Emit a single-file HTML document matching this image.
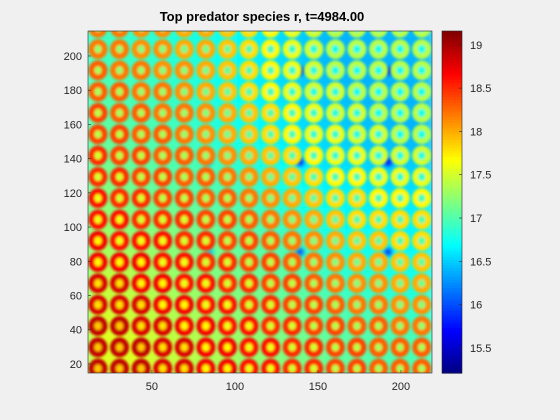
<!DOCTYPE html>
<html><head><meta charset="utf-8"><style>
body{margin:0;background:#f0f0f0;}
svg{display:block;font-family:"Liberation Sans",sans-serif;}
</style></head><body>
<svg id="fig" width="560" height="420">
<defs>
<clipPath id="pc"><rect x="88" y="31" width="344" height="342"/></clipPath>
<filter id="bgblur" x="-10%" y="-10%" width="120%" height="120%"><feGaussianBlur stdDeviation="7"/></filter>
<filter id="rblur" x="-20%" y="-20%" width="140%" height="140%"><feGaussianBlur stdDeviation="1.4"/></filter>
<filter id="hblur" x="-50%" y="-50%" width="200%" height="200%"><feGaussianBlur stdDeviation="2.5"/></filter>
</defs>
<rect x="0" y="0" width="560" height="420" fill="#f0f0f0"/>
<text x="262" y="21" text-anchor="middle" font-size="13" font-weight="bold" fill="#000">Top predator species r, t=4984.00</text>
<g id="plot" clip-path="url(#pc)">
<rect x="88" y="31" width="344" height="342" fill="#8fe"/>
<g id="bg" filter="url(#bgblur)"></g>
<g id="holes" filter="url(#hblur)"></g>
<g id="rings" filter="url(#rblur)"></g>
</g>
<rect x="88" y="31" width="344" height="342" fill="none" stroke="#262626" stroke-width="0.6"/>
<g id="axes"></g>
<g id="cbar"></g>
</svg>
<script>
const xTicks=[50,100,150,200];
const yTicks=[20,40,60,80,100,120,140,160,180,200];
const cTicks=[15.5,16,16.5,17,17.5,18,18.5,19];
const colCenters=[17.5,30.5,43.5,56.5,69.5,82.5,95.5,108.5,121.5,134.5,147.5,160.5,173.5,186.5,199.5,212.5];
const rowCenters=[216.5,204,191.6,179.1,166.7,154.2,141.8,129.3,116.9,104.4,92,79.5,67.1,54.6,42.2,29.7,17.3];
const ringValues=[
[18.2,18.2,18.1,18.1,18.0,18.0,17.9,17.8,17.7,17.6,17.5,17.4,17.4,17.4,17.4,17.4],
[18.2,18.2,18.1,18.1,18.0,18.0,17.9,17.8,17.7,17.6,17.5,17.4,17.4,17.4,17.4,17.4],
[18.3,18.2,18.2,18.1,18.1,18.0,17.9,17.8,17.7,17.6,17.5,17.4,17.4,17.4,17.4,17.4],
[18.3,18.3,18.2,18.2,18.1,18.0,17.9,17.8,17.7,17.6,17.5,17.5,17.4,17.4,17.4,17.4],
[18.4,18.3,18.3,18.2,18.2,18.1,18.0,17.9,17.8,17.7,17.6,17.5,17.5,17.4,17.4,17.4],
[18.4,18.4,18.3,18.3,18.2,18.1,18.0,17.9,17.8,17.7,17.6,17.6,17.5,17.5,17.4,17.4],
[18.5,18.4,18.4,18.3,18.3,18.2,18.1,18.0,17.9,17.8,17.7,17.6,17.6,17.5,17.5,17.5],
[18.5,18.5,18.4,18.4,18.3,18.3,18.2,18.1,18.0,17.9,17.8,17.7,17.7,17.6,17.6,17.6],
[18.6,18.5,18.5,18.4,18.4,18.3,18.3,18.2,18.1,18.0,17.9,17.8,17.8,17.7,17.7,17.7],
[18.6,18.6,18.5,18.5,18.5,18.4,18.4,18.3,18.2,18.1,18.0,17.9,17.8,17.8,17.8,17.8],
[18.7,18.6,18.6,18.6,18.5,18.5,18.4,18.4,18.3,18.2,18.1,18.0,17.9,17.9,17.8,17.8],
[18.7,18.7,18.7,18.6,18.6,18.5,18.5,18.4,18.4,18.3,18.2,18.1,18.0,18.0,17.9,17.9],
[18.8,18.8,18.7,18.7,18.6,18.6,18.5,18.5,18.4,18.4,18.3,18.2,18.1,18.1,18.0,18.0],
[18.8,18.8,18.8,18.7,18.7,18.6,18.6,18.5,18.5,18.4,18.4,18.3,18.2,18.2,18.1,18.1],
[18.9,18.9,18.8,18.8,18.7,18.7,18.6,18.6,18.5,18.5,18.4,18.4,18.3,18.3,18.2,18.2],
[18.9,18.9,18.9,18.8,18.8,18.7,18.7,18.6,18.6,18.5,18.5,18.4,18.4,18.3,18.3,18.3],
[18.9,18.9,18.9,18.8,18.8,18.7,18.7,18.6,18.6,18.5,18.5,18.4,18.4,18.3,18.3,18.3]
];
const holeX=[139.2,192.2,139.2,192.2,139.2,192.2,83.8,83.8,85];
const holeY=[191.2,191.2,138,138,85.4,85.4,191.2,138,85.4];
const holeV=[15.6,15.6,15.8,15.7,16.0,15.9,16.4,16.4,16.5];

const xMin=11.5,xMax=218.7,yMin=14.7,yMax=214.6,cMin=15.21,cMax=19.16;
const PX0=88,PX1=432,PY0=31,PY1=373;
const sx=v=>PX0+(v-xMin)/(xMax-xMin)*(PX1-PX0);
const sy=v=>PY1-(v-yMin)/(yMax-yMin)*(PY1-PY0);
const cy=v=>PY1-(v-cMin)/(cMax-cMin)*(PY1-PY0);
function jet(v){
  let t=(v-cMin)/(cMax-cMin);t=Math.max(0,Math.min(1,t));
  const f=x=>Math.max(0,Math.min(1,x));
  const r=f(1.5-Math.abs(4*t-3)),g=f(1.5-Math.abs(4*t-2)),b=f(1.5-Math.abs(4*t-1));
  return `rgb(${Math.round(r*255)},${Math.round(g*255)},${Math.round(b*255)})`;
}
const NS='http://www.w3.org/2000/svg';
function mk(tag,attrs,parent){const e=document.createElementNS(NS,tag);for(const k in attrs)e.setAttribute(k,attrs[k]);parent.appendChild(e);return e;}
const bg=document.getElementById('bg'),rings=document.getElementById('rings'),holes=document.getElementById('holes');
const dx=Math.abs(sx(colCenters[1])-sx(colCenters[0])),dy=Math.abs(sy(rowCenters[1])-sy(rowCenters[0]));
ringValues.forEach((row,ri)=>{
  row.forEach((v,ci)=>{
    const x=sx(colCenters[ci]),y=sy(rowCenters[ri]);
    const off=Math.min(1.35,1.0+0.35*(v-17.4));
    const bv=v-off;
    const b=mk('rect',{x:x-dx/2-1,y:y-dy/2-1,width:dx+2,height:dy+2,fill:jet(bv)},bg);
    
    
    const e=mk('ellipse',{cx:x,cy:y,rx:6.6,ry:7,fill:jet(bv+0.35),stroke:jet(v),'stroke-width':5.8},rings);
    
    
  });
});
holeX.forEach((hx,i)=>{
  const c=mk('circle',{cx:sx(hx),cy:sy(holeY[i]),r:4,fill:jet(holeV[i])},holes);
  
  
});
const ax=document.getElementById('axes');
xTicks.forEach(t=>{
  const X=sx(t);
  const l=mk('line',{x1:X,x2:X,y1:PY1,y2:PY1-3,stroke:'#262626','stroke-width':0.6},ax);
  
  
  const tx=mk('text',{x:X,y:PY1+17,'text-anchor':'middle','font-size':11,fill:'#262626'},ax);
  tx.textContent=t;
  
  
});
yTicks.forEach(t=>{
  const Y=sy(t);
  const l=mk('line',{x1:PX0,x2:PX0+3,y1:Y,y2:Y,stroke:'#262626','stroke-width':0.6},ax);
  
  
  const tx=mk('text',{x:PX0-6,y:Y+4,'text-anchor':'end','font-size':11,fill:'#262626'},ax);
  tx.textContent=t;
  
  
});
const cb=document.getElementById('cbar');
const CX0=442,CX1=462,N=120;
for(let i=0;i<N;i++){
  const v0=cMin+(cMax-cMin)*i/N,v1=cMin+(cMax-cMin)*(i+1)/N;
  const r=mk('rect',{x:CX0,y:cy(v1),width:CX1-CX0,height:cy(v0)-cy(v1)+0.6,fill:jet((v0+v1)/2)},cb);
  
  
}
const fr=mk('rect',{x:CX0,y:PY0,width:CX1-CX0,height:PY1-PY0,fill:'none',stroke:'#262626','stroke-width':0.6},cb);


cTicks.forEach(t=>{
  const Y=cy(t);
  const l=mk('line',{x1:CX1-3,x2:CX1,y1:Y,y2:Y,stroke:'#262626','stroke-width':0.6},cb);
  
  
  const tx=mk('text',{x:CX1+8,y:Y+4,'font-size':11,fill:'#262626'},cb);
  tx.textContent=t;
  
  
});
</script>
</body></html>
